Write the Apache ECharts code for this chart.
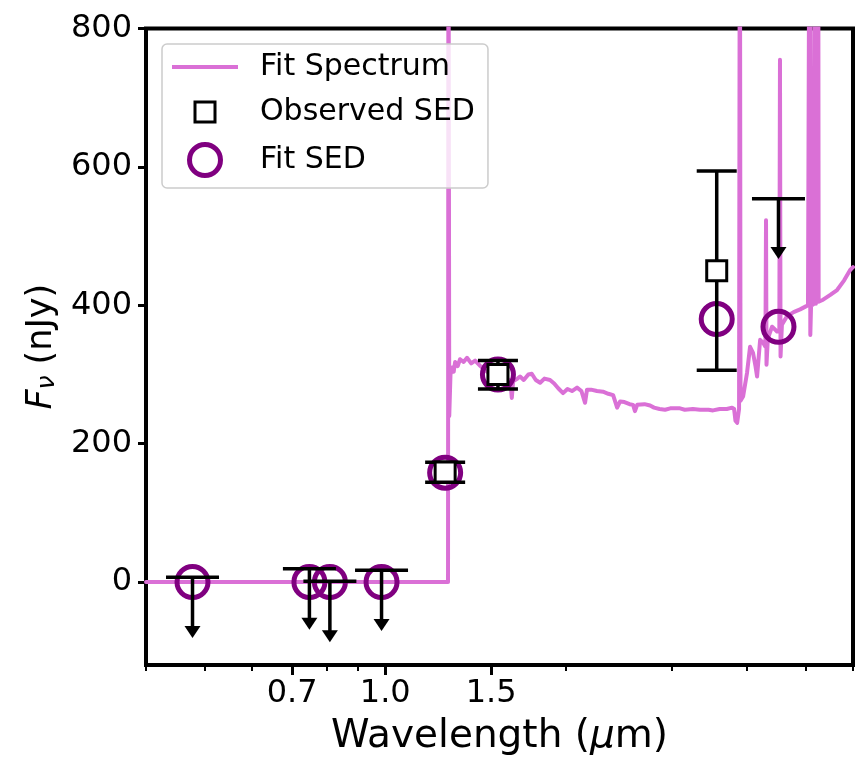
<!DOCTYPE html>
<html>
<head>
<meta charset="utf-8">
<script src="https://cdn.jsdelivr.net/npm/echarts@6/dist/echarts.min.js"></script>
<style>
html, body { margin: 0; padding: 0; background: #fff; }
#chart { width: 856px; height: 758px; }
</style>
</head>
<body>
<div id="chart"></div>
<script>
// fit spectrum, wavelength in um, flux in nJy
var specWave = [0.40, 1.272, 1.274, 1.278, 1.284, 1.292, 1.300, 1.307, 1.320, 1.332, 1.350, 1.368, 1.390, 1.411, 1.440, 1.466,
  1.500, 1.523, 1.545, 1.560, 1.590, 1.615, 1.624, 1.632, 1.660, 1.676, 1.700, 1.730, 1.753, 1.780, 1.810, 1.840, 1.880,
  1.910, 1.940, 1.976, 2.010, 2.045, 2.085, 2.120, 2.150, 2.166, 2.200, 2.250, 2.303, 2.350, 2.394, 2.431, 2.459, 2.500,
  2.550, 2.584, 2.603, 2.625, 2.700, 2.758, 2.800, 2.860, 2.921, 2.980, 3.093, 3.150, 3.250, 3.340, 3.450, 3.510, 3.600,
  3.700, 3.775, 3.805, 3.825, 3.850, 3.878, 3.890, 3.900, 3.938, 3.998, 4.045, 4.091, 4.130, 4.155, 4.204, 4.250, 4.290,
  4.300, 4.308, 4.330, 4.401, 4.485, 4.525, 4.536, 4.546, 4.570, 4.660, 4.780, 4.900, 5.000, 5.050, 5.085, 5.095, 5.110,
  5.150, 5.195, 5.205, 5.240, 5.250, 5.260, 5.351, 5.500, 5.645, 5.800, 5.935, 6.000];
var specFlux = [0, 0, 1100, 240, 300, 310, 304, 318, 312, 322, 318, 324, 316, 320, 312, 306,
  300, 298, 296, 300, 295, 290, 266, 290, 294, 297, 292, 300, 301, 292, 288, 294, 292,
  287, 280, 273, 279, 276, 281, 276, 259, 278, 278, 276, 275, 272, 270, 252, 261, 260,
  257, 256, 247, 256, 257, 255, 252, 250, 249, 251, 251, 249, 250, 249, 249, 248, 250,
  250, 252, 250, 233, 230, 250, 1100, 262, 268, 302, 340, 331, 312, 297, 350, 346, 340,
  523, 314, 352, 369, 362, 362, 755, 326, 372, 384, 390, 394, 398, 400, 1200, 357, 400,
  401, 1200, 402, 404, 1200, 405, 408, 415, 422, 436, 451, 455];

// observed detections: value with lower / upper error bar ends
var detWave = [1.258, 1.540, 3.56];
var detFlux = [159, 300, 450];
var detLow = [144, 279, 306];
var detHigh = [173, 320, 594];

// observed upper limits: limit value and arrow length
var limWave = [0.478, 0.748, 0.809, 0.986, 4.51];
var limFlux = [7, 19, 1, 17, 554];
var limArrow = [88, 88, 88, 88, 87];

// fit SED photometry
var fitWave = [0.478, 0.748, 0.809, 0.986, 1.258, 1.540, 3.56, 4.51];
var fitFlux = [0, 0, 0, 0, 158, 300, 380, 369];

var xMajor = [0.7, 1.0, 1.5];
var xMinor = [0.4, 0.5, 0.6, 0.8, 0.9, 2, 3, 4, 5, 6];
var yTicks = [0, 200, 400, 600, 800];

var font = 'DejaVu Sans';
var specColor = '#DA70D6';
var fitColor = '#800080';

var specData = [];
for (var i = 0; i < specWave.length; i++) specData.push([specWave[i], specFlux[i]]);

var obsData = [];
for (var i = 0; i < detWave.length; i++) obsData.push([detWave[i], detFlux[i]]);

var detErr = [];
for (var i = 0; i < detWave.length; i++) detErr.push([detWave[i], detLow[i], detHigh[i]]);

var limData = [];
for (var i = 0; i < limWave.length; i++) limData.push([limWave[i], limFlux[i], limFlux[i] - limArrow[i]]);

var fitData = [];
for (var i = 0; i < fitWave.length; i++) fitData.push([fitWave[i], fitFlux[i]]);

var black = { stroke: '#000', lineWidth: 3.5 };

function renderDet(params, api) {
  var x = api.value(0);
  var lo = api.coord([x, api.value(1)]);
  var hi = api.coord([x, api.value(2)]);
  var hw = 20;
  return {
    type: 'group',
    children: [
      { type: 'line', shape: { x1: lo[0], y1: lo[1], x2: hi[0], y2: hi[1] }, style: black },
      { type: 'line', shape: { x1: lo[0] - hw, y1: lo[1], x2: lo[0] + hw, y2: lo[1] }, style: black },
      { type: 'line', shape: { x1: hi[0] - hw, y1: hi[1], x2: hi[0] + hw, y2: hi[1] }, style: black }
    ]
  };
}

function renderLim(params, api) {
  var x = api.value(0);
  var p = api.coord([x, api.value(1)]);
  var t = api.coord([x, api.value(2)]);
  var hw = 26.5, ah = 12, aw = 8;
  return {
    type: 'group',
    children: [
      { type: 'line', shape: { x1: p[0] - hw, y1: p[1], x2: p[0] + hw, y2: p[1] }, style: black },
      { type: 'line', shape: { x1: p[0], y1: p[1], x2: t[0], y2: t[1] - ah + 1 }, style: black },
      { type: 'polygon', shape: { points: [[t[0] - aw, t[1] - ah], [t[0] + aw, t[1] - ah], [t[0], t[1]]] }, style: { fill: '#000' } }
    ]
  };
}

var chart = echarts.init(document.getElementById('chart'));
chart.setOption({
  animation: false,
  backgroundColor: '#fff',
  textStyle: { fontFamily: font },
  grid: {
    left: 146, right: 3, top: 28.5, bottom: 93,
    outerBoundsMode: 'none',
    show: true, borderColor: '#000', borderWidth: 4
  },
  legend: {
    left: 162, top: 44, orient: 'vertical',
    itemWidth: 66, itemHeight: 31, itemGap: 13,
    padding: [8, 13, 10, 10],
    backgroundColor: 'rgba(255,255,255,0.8)',
    borderColor: '#cccccc', borderWidth: 1.5, borderRadius: 5,
    selectedMode: false,
    textStyle: { fontSize: 30, color: '#000', fontFamily: font, padding: [0, 0, 0, 17] },
    data: [
      { name: 'Fit Spectrum', icon: 'path://M0,0H66V4H0Z', itemStyle: { color: specColor, borderWidth: 0 } },
      { name: 'Observed SED', icon: 'path://M0,0M31,31M5.5,5.5H25.5V25.5H5.5Z', itemStyle: { color: '#fff', borderColor: '#000', borderWidth: 3, opacity: 1 } },
      { name: 'Fit SED', icon: 'circle', itemStyle: { color: 'rgba(0,0,0,0)', borderColor: fitColor, borderWidth: 5, opacity: 1 } }
    ]
  },
  xAxis: [{
    type: 'log', logBase: 10, min: 0.4, max: 6, position: 'bottom',
    axisLine: { show: false, onZero: false },
    splitLine: { show: false },
    axisTick: { show: true, customValues: xMajor, length: 10, lineStyle: { color: '#000', width: 3 } },
    axisLabel: {
      customValues: xMajor, color: '#000', fontSize: 32, fontFamily: font, margin: 13,
      formatter: function (v) { return Number(v).toFixed(1); }
    },
    name: '{n|Wavelength (}{m|μ}{n|m)}',
    nameLocation: 'middle', nameGap: 52,
    nameTextStyle: {
      rich: {
        n: { fontSize: 39, color: '#000', fontFamily: font },
        m: { fontSize: 39, color: '#000', fontFamily: font, fontStyle: 'italic' }
      }
    }
  }, {
    type: 'log', logBase: 10, min: 0.4, max: 6, position: 'bottom',
    axisLine: { show: false, onZero: false },
    splitLine: { show: false },
    axisTick: { show: true, customValues: xMinor, length: 6, lineStyle: { color: '#000', width: 2 } },
    axisLabel: { show: false }
  }],
  yAxis: {
    type: 'value', min: -120, max: 800,
    axisLine: { show: false, onZero: false },
    splitLine: { show: false },
    axisTick: { show: true, customValues: yTicks, length: 8, lineStyle: { color: '#000', width: 3 } },
    axisLabel: { customValues: yTicks, color: '#000', fontSize: 32, fontFamily: font, margin: 14 },
    name: '{f|F}{s|ν}{n| (nJy)}',
    nameLocation: 'middle', nameGap: 86,
    nameTextStyle: {
      rich: {
        f: { fontSize: 35, color: '#000', fontFamily: font, fontStyle: 'italic' },
        s: { fontSize: 25, color: '#000', fontFamily: font, fontStyle: 'italic', verticalAlign: 'bottom', padding: [12, 0, 0, 0] },
        n: { fontSize: 35, color: '#000', fontFamily: font }
      }
    }
  },
  series: [{
    name: 'Fit Spectrum', type: 'line', data: specData, z: 1,
    symbol: 'none', clip: true, silent: true,
    lineStyle: { color: specColor, width: 4, join: 'round', cap: 'round' },
    itemStyle: { color: specColor }
  }, {
    name: 'Fit SED', type: 'scatter', data: fitData, z: 2, silent: true,
    symbol: 'circle', symbolSize: 31,
    itemStyle: { color: 'rgba(0,0,0,0)', borderColor: fitColor, borderWidth: 5, opacity: 1 }
  }, {
    name: 'det errors', type: 'custom', data: detErr, z: 3, silent: true,
    encode: { x: 0, y: [1, 2] }, renderItem: renderDet
  }, {
    name: 'upper limits', type: 'custom', data: limData, z: 3, silent: true,
    encode: { x: 0, y: [1, 2] }, renderItem: renderLim
  }, {
    name: 'Observed SED', type: 'scatter', data: obsData, z: 4, silent: true,
    symbol: 'rect', symbolSize: 20,
    itemStyle: { color: '#fff', borderColor: '#000', borderWidth: 3, opacity: 1 }
  }]
});
</script>
</body>
</html>
